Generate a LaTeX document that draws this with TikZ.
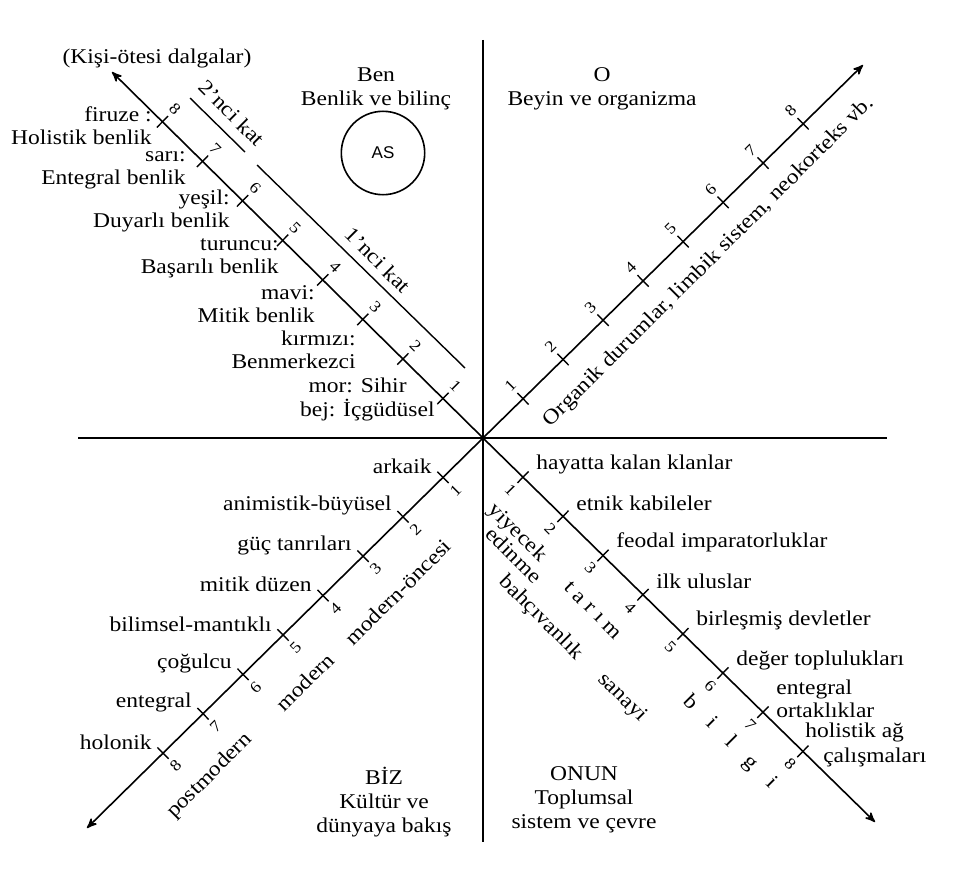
\documentclass[tikz,border=0pt]{standalone}
\usepackage{fontspec}
\setmainfont{Liberation Serif}[FakeStretch=1.12]
\newfontfamily\asfont{Liberation Sans}
\usetikzlibrary{arrows,calc,positioning}
\tikzstyle{cross} = [line width=1pt]
\tikzstyle{axis} = [line width=0.8pt,-stealth']
\tikzstyle{kat line} = [line width=0.7pt]
\tikzstyle{tickmark} = [line width=0.7pt]
\tikzstyle{num} = [inner sep=0pt,font=\fontsize{8}{9}\selectfont]
\tikzstyle{lbl} = [inner sep=0pt,font=\fontsize{10.5}{11.5}\selectfont]
\tikzstyle{title} = [inner sep=0pt,align=center,font=\fontsize{10.5}{12}\selectfont]
\tikzstyle{along} = [inner sep=0pt,font=\fontsize{10.5}{12}\selectfont]

\begin{document}
\begin{tikzpicture}[x=0.5pt,y=-0.5pt]
        \useasboundingbox (0,0) rectangle (961,888);

        \coordinate (C) at (483,438);
        \coordinate (top) at (483,40);
        \coordinate (bottom) at (483,842);
        \coordinate (left) at (78,438);
        \coordinate (right) at (887,438);
        \coordinate (ul end) at (112,72);
        \coordinate (ur end) at (863,65);
        \coordinate (ll end) at (87,828);
        \coordinate (lr end) at (875,822);

        \draw[cross] (top) to (bottom);
        \draw[cross] (left) to (right);

        \draw[axis] (C) to (ul end);
        \draw[axis] (C) to (ur end);
        \draw[axis] (C) to (ll end);
        \draw[axis] (C) to (lr end);

        \foreach \k in {1,...,8} {
            \coordinate (ul\k) at ($(C)!\k*0.108!(ul end)$);
            \coordinate (ur\k) at ($(C)!\k*0.1053!(ur end)$);
            \coordinate (ll\k) at ($(C)!\k*0.101!(ll end)$);
            \coordinate (lr\k) at ($(C)!\k*0.102!(lr end)$);
            \draw[tickmark] ($(ul\k)!4pt!90:(C)$) to ($(ul\k)!4pt!-90:(C)$);
            \draw[tickmark] ($(ur\k)!4pt!90:(C)$) to ($(ur\k)!4pt!-90:(C)$);
            \draw[tickmark] ($(ll\k)!4pt!90:(C)$) to ($(ll\k)!4pt!-90:(C)$);
            \draw[tickmark] ($(lr\k)!4pt!90:(C)$) to ($(lr\k)!4pt!-90:(C)$);
            \node[num,rotate=-45] (ul num\k) at ($(ul\k)!9pt!90:(C)$) {\k};
            \node[num,rotate=45] (ur num\k) at ($(ur\k)!9pt!-90:(C)$) {\k};
            \node[num,rotate=45] (ll num\k) at ($(ll\k)!9pt!-90:(C)$) {\k};
            \node[num,rotate=-45] (lr num\k) at ($(lr\k)!9pt!90:(C)$) {\k};
        }

        % Ben
        \node[title] (ben) at (376,89) {Ben\\Benlik ve bilinç};
        \node[title] (kisi otesi) at (157,58) {(Kişi-ötesi dalgalar)};
        \node[draw,circle,line width=0.8pt,minimum size=41.7pt,inner sep=0pt,font=\asfont\fontsize{8.5}{10}\selectfont] (as) at (383,153) {AS};

        \coordinate (kat2 start) at (190,98);
        \coordinate (kat2 end) at (245,152);
        \coordinate (kat1 start) at (257,165);
        \coordinate (kat1 end) at (465,368);
        \draw[kat line] (kat2 start) to (kat2 end);
        \draw[kat line] (kat1 start) to (kat1 end);
        \node[along,rotate=-45] (kat2) at (232,113) {2’nci kat};
        \node[along,rotate=-45] (kat1) at (378,260) {1’nci kat};

        \node[lbl,anchor=east,align=right] (firuze) at (152,126) {firuze :\\Holistik benlik};
        \node[lbl,anchor=east,align=right] (sari) at (186,170) {sarı:\\Entegral benlik};
        \node[lbl,anchor=east,align=right] (yesil) at (230,211) {yeşil:\\Duyarlı benlik};
        \node[lbl,anchor=east,align=right] (turuncu) at (279,258) {turuncu:\\Başarılı benlik};
        \node[lbl,anchor=east,align=right] (mavi) at (315,304) {mavi:\\Mitik benlik};
        \node[lbl,anchor=east,align=right] (kirmizi) at (356,350) {kırmızı:\\Benmerkezci};
        \node[lbl,anchor=east] (mor) at (407,385) {mor: Sihir};
        \node[lbl,anchor=east] (bej) at (435,410) {bej: İçgüdüsel};

        % O
        \node[title] (o) at (602,89) {O\\Beyin ve organizma};
        \node[along,rotate=45] (organik) at (709,262) {Organik durumlar, limbik sistem, neokorteks vb.};

        % BIZ
        \node[title] (biz) at (384,802) {BİZ\\Kültür ve\\dünyaya bakış};
        \foreach \k/\txt in {1/arkaik,2/animistik-büyüsel,3/güç tanrıları,4/mitik düzen,
                5/bilimsel-mantıklı,6/çoğulcu,7/entegral,8/holonik}
            \node[lbl,anchor=east] (ll lbl\k) at ($(ll\k)+(-11,-11)$) {\txt};
        \node[along,rotate=45] (premodern) at (398,592) {modern-öncesi};
        \node[along,rotate=45] (modern) at (305,682) {modern};
        \node[along,rotate=45] (postmodern) at (210,776) {postmodern};

        % ONUN
        \node[title] (onun) at (584,800) {ONUN\\Toplumsal\\sistem ve çevre};
        \foreach \k/\txt in {1/hayatta kalan klanlar,2/etnik kabileler,3/feodal imparatorluklar,
                4/ilk uluslar,5/birleşmiş devletler,6/değer toplulukları,7/{entegral\\ortaklıklar}}
            \node[lbl,anchor=west,align=left] (lr lbl\k) at ($(lr\k)+(13,-13)$) {\txt};
        \node[lbl,anchor=west] (holistik ag) at ($(lr8)+(2,-19)$) {holistik ağ};
        \node[lbl,anchor=west] (calismalari) at ($(lr8)+(20,6)$) {çalışmaları};
        \node[along,rotate=-45] (yiyecek) at (517,533) {yiyecek};
        \node[along,rotate=-45] (edinme) at (514,555) {edinme};
        \node[along,rotate=-45] (bahcivanlik) at (541,618) {bahçıvanlık};
        \node[along,rotate=-45] (tarim) at (593,610) {t a r ı m};
        \node[along,rotate=-45] (sanayi) at (622,698) {sanayi};
        \node[along,rotate=-45] (bilgi) at (730,742) {b\hspace{10pt}i\hspace{10pt}l\hspace{10pt}g\hspace{10pt}i};
\end{tikzpicture}
\end{document}
